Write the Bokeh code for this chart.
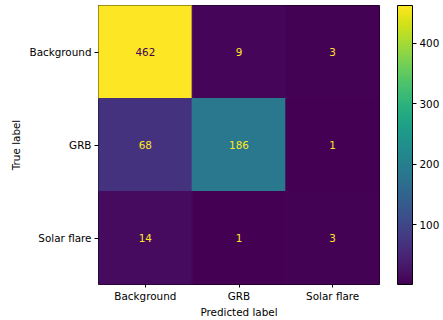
from bokeh.plotting import figure
from bokeh.models import (ColumnDataSource, LinearColorMapper, ColorBar, FixedTicker,
                          FactorRange)
from bokeh.transform import transform
from bokeh.palettes import Viridis256
from bokeh.core.properties import value
from bokeh.embed import file_html
from bokeh.resources import INLINE

classes = ["Background", "GRB", "Solar flare"]
true_labels = ["Background", "Background", "Background",
               "GRB", "GRB", "GRB",
               "Solar flare", "Solar flare", "Solar flare"]
pred_labels = ["Background", "GRB", "Solar flare"] * 3
counts = [462, 9, 3, 68, 186, 1, 14, 1, 3]
cbar_ticks = [100, 200, 300, 400]

FS = "10.4px"

vmin, vmax = min(counts), max(counts)
thresh = (vmin + vmax) / 2.0
text_colors = [Viridis256[0] if c >= thresh else Viridis256[-1] for c in counts]

src = ColumnDataSource(dict(true=true_labels, pred=pred_labels, count=counts,
                            label=[str(c) for c in counts], tcolor=text_colors))

mapper = LinearColorMapper(palette=Viridis256, low=vmin, high=vmax)

p = figure(width=443, height=320, output_backend="svg", toolbar_location=None,
           x_range=FactorRange(*classes), y_range=FactorRange(*classes[::-1]),
           min_border_left=98, min_border_right=64, min_border_top=5, min_border_bottom=35)

p.rect(x="pred", y="true", width=1, height=1, source=src,
       fill_color=transform("count", mapper), line_color=transform("count", mapper),
       line_width=1)
p.text(x="pred", y="true", text="label", source=src, text_color="tcolor",
       text_align="center", text_baseline="middle", text_font_size=FS,
       text_font=value("DejaVu Sans"))

p.xgrid.grid_line_color = None
p.ygrid.grid_line_color = None
p.outline_line_color = "black"
p.outline_line_width = 1
p.x_range.range_padding = 0
p.y_range.range_padding = 0

for ax in (p.xaxis[0], p.yaxis[0]):
    ax.axis_line_color = None
    ax.major_tick_in = 0
    ax.major_tick_out = 4
    ax.major_tick_line_color = "black"
    ax.major_label_text_font = "DejaVu Sans"
    ax.major_label_text_font_size = FS
    ax.major_label_text_color = "black"
    ax.axis_label_text_font = "DejaVu Sans"
    ax.axis_label_text_font_size = FS
    ax.axis_label_text_font_style = "normal"
    ax.axis_label_text_color = "black"
    ax.major_label_standoff = 3
    ax.axis_label_standoff = 3
    ax.group_text_font_size = "0px"

p.xaxis.major_label_standoff = 2
p.xaxis.axis_label_standoff = 1
p.xaxis.major_tick_out = 3
p.xaxis.axis_label = "Predicted label"
p.yaxis.axis_label = "True label"
p.yaxis.axis_label_standoff = 5
p.yaxis.major_label_orientation = "horizontal"

cb = ColorBar(color_mapper=mapper, ticker=FixedTicker(ticks=cbar_ticks),
              width=15, padding=0, margin=0, location=(18, 0),
              major_tick_in=0, major_tick_out=4, major_tick_line_color="black",
              minor_tick_line_color=None, bar_line_color="black",
              major_label_text_font="DejaVu Sans", major_label_text_font_size=FS,
              major_label_text_color="black", label_standoff=3,
              border_line_color=None, background_fill_color=None)
p.add_layout(cb, "right")

open("out.html", "w").write(file_html(p, INLINE))
